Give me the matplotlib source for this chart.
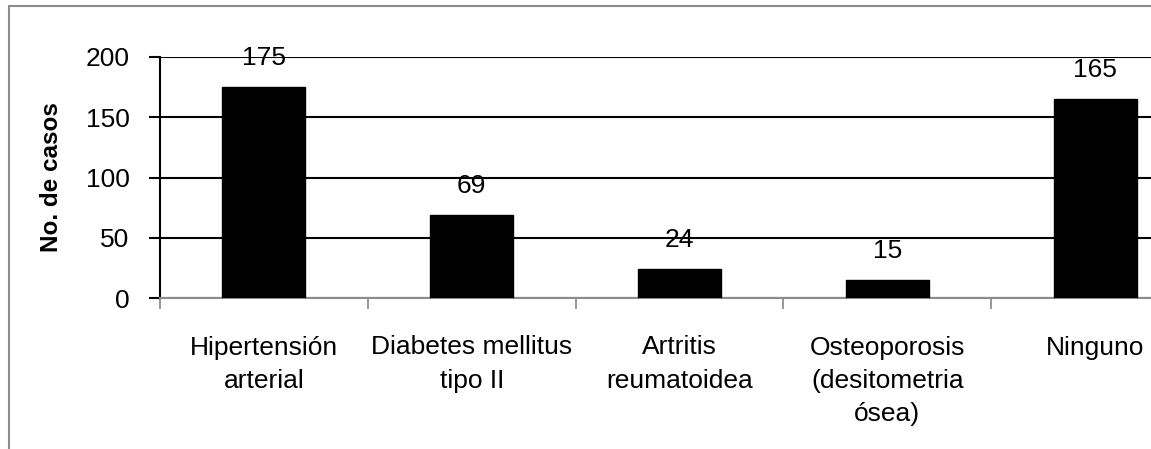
import matplotlib
matplotlib.use("Agg")
import matplotlib.pyplot as plt
from matplotlib.patches import Rectangle

categories = ["Hipertensión\narterial", "Diabetes mellitus\ntipo II",
              "Artritis\nreumatoidea", "Osteoporosis\n(desitometria\nósea)",
              "Ninguno"]
casos = [175, 69, 24, 15, 165]
y_ticks = [0, 50, 100, 150, 200]

plt.rcParams['font.family'] = ['Liberation Sans', 'DejaVu Sans']

W, H = 1151, 449
fig = plt.figure(figsize=(W / 100, H / 100), dpi=100)

# plot area runs past the right edge of the picture (cropped chart)
left, right, top, bottom = 160, 1199, 57, 298
ax = fig.add_axes([left / W, (H - bottom) / H, (right - left) / W, (bottom - top) / H])

# outer chart frame, also cropped on the right and bottom
fig.patches.append(Rectangle((9 / W, -0.1), 1.2, 1.1 - 6 / H, transform=fig.transFigure,
                             fill=False, edgecolor='#8c8c8c', linewidth=1.5, clip_on=False))

x = range(len(casos))
ax.bar(x, casos, width=0.4, color='black', edgecolor='black', zorder=3)
for xi, v in zip(x, casos):
    ax.annotate(str(v), (xi, v), xytext=(0, 16), textcoords='offset points',
                ha='center', va='baseline', fontsize=19, zorder=4)

ax.set_xlim(-0.5, len(casos) - 0.5)
ax.set_ylim(0, 200)
ax.set_yticks(y_ticks)
ax.yaxis.grid(True, color='black', linewidth=1.5, zorder=1)
ax.set_axisbelow(True)

ax.set_xticks([i + 0.5 for i in range(-1, len(casos))], minor=False)
ax.set_xticklabels([])
ax.set_xticks(list(x), minor=True)
ax.set_xticklabels(categories, minor=True, fontsize=19, linespacing=1.5)
ax.tick_params(axis='x', which='minor', length=0, pad=27)
ax.tick_params(axis='x', which='major', length=8, width=1.3, color='#8c8c8c', direction='out')
ax.tick_params(axis='y', length=8, width=1.5, color='black', labelsize=19, pad=14)

ax.spines['top'].set_visible(False)
ax.spines['right'].set_visible(False)
ax.spines['bottom'].set_color('#8c8c8c')
ax.spines['bottom'].set_linewidth(1.5)
ax.spines['left'].set_color('black')
ax.spines['left'].set_linewidth(1.5)

ax.set_ylabel("No. de casos", fontsize=17.5, fontweight='bold', labelpad=16)

fig.savefig("out.png", dpi=100)
